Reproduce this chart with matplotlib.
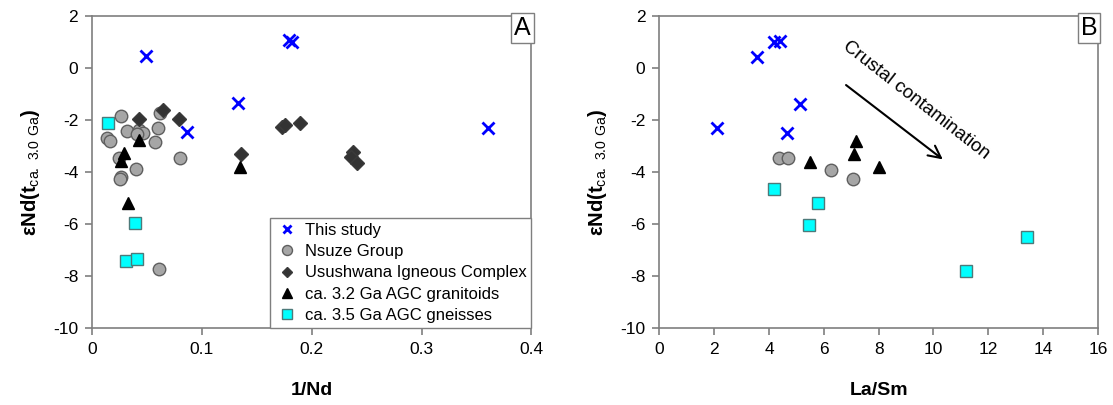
import matplotlib
matplotlib.use("Agg")
import matplotlib.pyplot as plt

plt.rcParams['font.family'] = ['Liberation Sans', 'DejaVu Sans']
plt.rcParams['mathtext.fontset'] = 'custom'
plt.rcParams['mathtext.rm'] = 'Liberation Sans'
plt.rcParams['mathtext.bf'] = 'Liberation Sans:bold'
plt.rcParams['axes.unicode_minus'] = False

###############################################################
#                  data, panel A (1/Nd)
###############################################################
study_x = [0.049, 0.179, 0.182, 0.133, 0.0865, 0.360]
study_y = [0.45, 1.08, 1.00, -1.36, -2.47, -2.32]

nsuze_x = [0.0264, 0.014, 0.016, 0.032, 0.043, 0.046, 0.0406, 0.060, 0.062,
           0.057, 0.0249, 0.040, 0.026, 0.080, 0.0255, 0.061]
nsuze_y = [-1.83, -2.71, -2.80, -2.42, -2.38, -2.51, -2.55, -2.30, -1.74,
           -2.86, -3.47, -3.90, -4.20, -3.46, -4.27, -7.73]

usu_x = [0.0426, 0.0647, 0.079, 0.136, 0.173, 0.176, 0.189, 0.238, 0.236, 0.241]
usu_y = [-1.97, -1.62, -1.95, -3.30, -2.28, -2.20, -2.10, -3.22, -3.41, -3.67]

gr32_x = [0.0426, 0.0288, 0.0264, 0.135, 0.0324]
gr32_y = [-2.77, -3.28, -3.56, -3.80, -5.20]

gn35_x = [0.0142, 0.039, 0.031, 0.0413]
gn35_y = [-2.10, -5.97, -7.41, -7.33]

###############################################################
#                  data, panel B (La/Sm)
###############################################################
study_lasm = [2.11, 3.55, 4.19, 4.40, 5.13, 4.65]
study_end = [-2.32, 0.43, 0.99, 1.05, -1.38, -2.49]

nsuze_lasm = [4.37, 4.70, 6.26, 7.05]
nsuze_end = [-3.46, -3.46, -3.91, -4.28]

gr32_lasm = [7.17, 7.11, 5.49, 8.01]
gr32_end = [-2.80, -3.31, -3.60, -3.82]

gn35_lasm = [4.20, 5.77, 5.46, 13.42, 11.17]
gn35_end = [-4.65, -5.18, -6.03, -6.49, -7.82]

labels = ["This study", "Nsuze Group", "Usushwana Igneous Complex",
          "ca. 3.2 Ga AGC granitoids", "ca. 3.5 Ga AGC gneisses"]

###############################################################
#                        styles
###############################################################
st_x = dict(marker='x', color='#0000ff', ms=8, mew=2, ls='none')
st_c = dict(marker='o', mfc='#a6a6a6', mec='#5f5f5f', ms=9, mew=1, ls='none')
st_d = dict(marker='D', mfc='#333333', mec='#3a3a3a', ms=7, mew=1, ls='none')
st_t = dict(marker='^', mfc='black', mec='black', ms=9, mew=1, ls='none')
st_s = dict(marker='s', mfc='#00ffff', mec='#4d7a7a', ms=9, mew=1, ls='none')

ylab = r'$\mathbf{εNd(t}_{\mathrm{ca.\ 3.0\ Ga}}\mathbf{)}$'
spine_col = '#7f7f7f'

fig = plt.figure(figsize=(11.13, 4.05), dpi=100)
axA = fig.add_axes([0.0827, 0.190, 0.3948, 0.7705])
axB = fig.add_axes([0.5924, 0.190, 0.3941, 0.7705])


def style_axes(ax):
    for s in ax.spines.values():
        s.set_color(spine_col)
        s.set_linewidth(1.2)
    ax.tick_params(direction='out', length=5, width=1.2, color=spine_col,
                   labelsize=12.5, pad=5)
    ax.set_ylim(-10, 2)
    ax.set_yticks(range(-10, 3, 2))
    ax.set_ylabel(ylab, fontsize=14.5, labelpad=8)


def panel_tag(ax, tag):
    ax.text(0.9985, 0.9985, tag, transform=ax.transAxes, ha='right', va='top', fontsize=18,
            bbox=dict(boxstyle='square,pad=0.12', fc='white', ec=spine_col, lw=1.0))


# panel A
axA.plot(gn35_x, gn35_y, **st_s, label=labels[4], zorder=3)
axA.plot(nsuze_x, nsuze_y, **st_c, label=labels[1], zorder=4)
axA.plot(usu_x, usu_y, **st_d, label=labels[2], zorder=5)
axA.plot(gr32_x, gr32_y, **st_t, label=labels[3], zorder=6)
axA.plot(study_x, study_y, **st_x, label=labels[0], zorder=7)
style_axes(axA)
axA.set_xlim(0, 0.4)
axA.set_xticks([0, 0.1, 0.2, 0.3, 0.4])
axA.set_xticklabels(['0', '0.1', '0.2', '0.3', '0.4'])
axA.set_xlabel('1/Nd', fontsize=14, fontweight='bold', labelpad=18)

h, l = axA.get_legend_handles_labels()
order = [l.index(t) for t in labels]
leg = axA.legend([h[i] for i in order], [l[i] for i in order], loc='lower right',
                 borderaxespad=0, fancybox=False, framealpha=1, edgecolor=spine_col,
                 fontsize=12, handletextpad=0.3, borderpad=0.3, labelspacing=0.38,
                 markerscale=0.8, handlelength=1.5)
leg.get_frame().set_linewidth(1.0)
panel_tag(axA, 'A')

# panel B
axB.plot(gn35_lasm, gn35_end, **st_s, zorder=3)
axB.plot(nsuze_lasm, nsuze_end, **st_c, zorder=4)
axB.plot(gr32_lasm, gr32_end, **st_t, zorder=6)
axB.plot(study_lasm, study_end, **st_x, zorder=7)
style_axes(axB)
axB.set_xlim(0, 16)
axB.set_xticks(range(0, 17, 2))
axB.set_xlabel('La/Sm', fontsize=14, fontweight='bold', labelpad=18)

axB.annotate('', xy=(10.42, -3.58), xytext=(6.73, -0.59),
             arrowprops=dict(arrowstyle='->', lw=1.5, color='black', mutation_scale=22))
axB.text(9.35, -1.25, 'Crustal contamination', rotation=-38, rotation_mode='anchor',
         ha='center', va='center', fontsize=13.5)
panel_tag(axB, 'B')

fig.savefig('out.png', dpi=100)
